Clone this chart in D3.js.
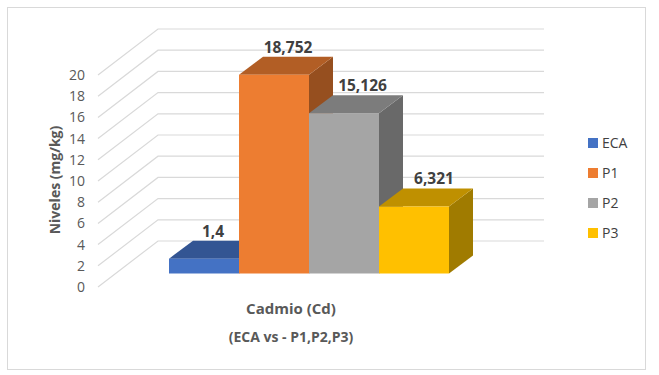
<!DOCTYPE html>
<html><head><meta charset="utf-8">
<script src="https://cdn.jsdelivr.net/npm/d3@7"></script>
<style>html,body{margin:0;padding:0;background:#fff}svg{display:block}text{font-family:"Open Sans","Noto Sans",sans-serif}</style>
</head><body><svg id="c" width="659" height="375"></svg>
<script>
const categories=["ECA","P1","P2","P3"];
const values=[1.4,18.752,15.126,6.321];
const valueLabels=["1,4","18,752","15,126","6,321"];
const colors=["#4472c4","#ed7d31","#a5a5a5","#ffc000"];
const topColors=["#335593","#b25e25","#7c7c7c","#bf9000"];
const sideColors=["#2a4679","#964f1f","#696969","#a07b00"];
const yTicks=[0,2,4,6,8,10,12,14,16,18,20];
const xTitle="Cadmio (Cd)";
const xSubtitle="(ECA vs - P1,P2,P3)";
const yTitle="Niveles (mg/kg)";

const svg=d3.select("#c");
svg.append("rect").attr("x",7.5).attr("y",7.5).attr("width",638).attr("height",362).attr("fill","#fff").attr("stroke","#d9d9d9");

const yWall=d3.scaleLinear().domain([0,20]).range([287,75]);
const x=d3.scaleBand().domain(categories).range([169,449]);
const wallDx=60,wallDy=-46,barDx=24,barDy=-18,barBase=273.5,gridRight=544;
const yBar=d3.scaleLinear().domain([0,20]).range([barBase,barBase-212]);

const grid=svg.append("g").attr("fill","none").attr("stroke","#d9d9d9").attr("stroke-width",1.2);
yTicks.forEach(t=>{
  const y0=yWall(t);
  grid.append("path").attr("d",d3.line()([[98,y0],[98+wallDx,y0+wallDy],[gridRight,y0+wallDy]]));
});

svg.append("g").selectAll("text").data(yTicks).join("text")
  .attr("x",85).attr("y",d=>yWall(d)+5).attr("text-anchor","end")
  .attr("font-size",14).attr("fill","#595959").text(d=>d);

categories.forEach((c,i)=>{
  const x0=x(c),x1=x0+x.bandwidth(),yt=yBar(values[i]);
  const line=d3.line();
  svg.append("path").attr("fill",sideColors[i]).attr("d",line([[x1,barBase],[x1+barDx,barBase+barDy],[x1+barDx,yt+barDy],[x1,yt]])+"Z");
  svg.append("path").attr("fill",topColors[i]).attr("d",line([[x0,yt],[x0+barDx,yt+barDy],[x1+barDx,yt+barDy],[x1,yt]])+"Z");
  svg.append("rect").attr("x",x0).attr("y",yt).attr("width",x.bandwidth()).attr("height",barBase-yt).attr("fill",colors[i]);
});

const labelDx=[213,288,362.5,434];
categories.forEach((c,i)=>{
  svg.append("text").attr("x",labelDx[i]).attr("y",yBar(values[i])+barDy-4)
    .attr("text-anchor","middle").attr("font-size",15.5).attr("font-weight",700).attr("fill","#404040").text(valueLabels[i]);
});

svg.append("text").attr("x",291).attr("y",314).attr("text-anchor","middle").attr("font-size",15).attr("font-weight",700).attr("fill","#595959").text(xTitle);
svg.append("text").attr("x",291).attr("y",342).attr("text-anchor","middle").attr("font-size",14).attr("font-weight",700).attr("fill","#595959").text(xSubtitle);
svg.append("text").attr("transform","translate(60,180) rotate(-90)").attr("text-anchor","middle").attr("font-size",14).attr("font-weight",700).attr("fill","#595959").text(yTitle);

const legY=d3.scalePoint().domain(categories).range([143,233]);
const leg=svg.append("g");
categories.forEach((c,i)=>{
  leg.append("rect").attr("x",588).attr("y",legY(c)-5).attr("width",10).attr("height",10).attr("fill",colors[i]);
  leg.append("text").attr("x",602).attr("y",legY(c)+5).attr("font-size",14).attr("fill","#404040").text(c);
});
</script></body></html>
